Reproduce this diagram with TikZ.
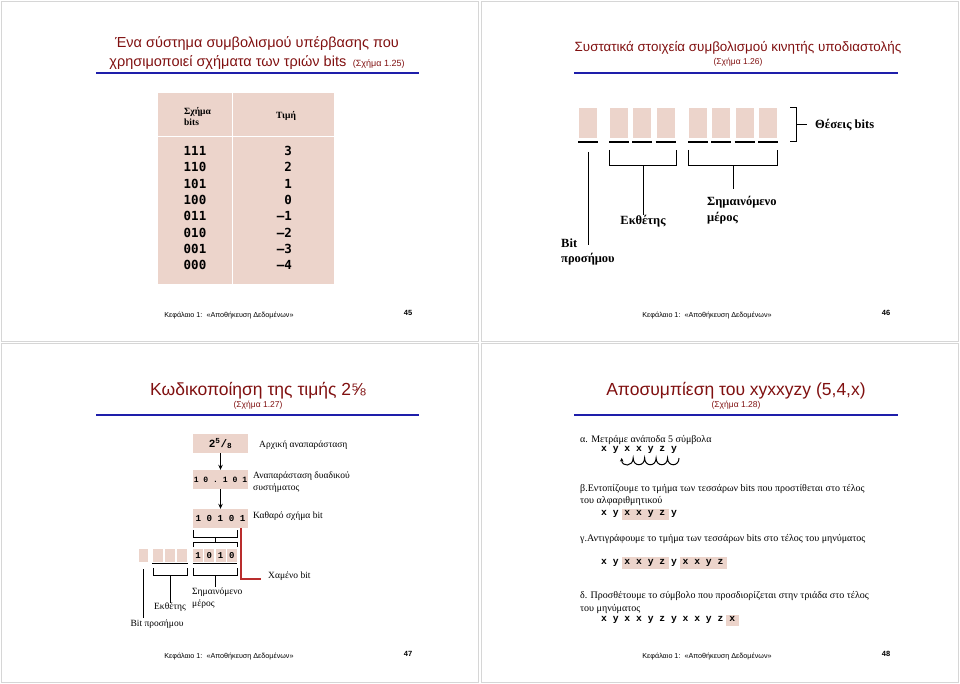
\documentclass[tikz,border=0pt]{standalone}
\usepackage{fontspec}
\setmainfont{Liberation Serif}
\setsansfont{Liberation Sans}
\setmonofont{Liberation Mono}
\newfontfamily\tablemono{DejaVu Sans Mono}
\usetikzlibrary{arrows.meta,positioning}

\definecolor{slidered}{RGB}{128,16,16}
\definecolor{ruleblue}{RGB}{30,30,170}
\definecolor{bitpink}{RGB}{236,212,203}
\definecolor{framegray}{RGB}{214,214,214}
\definecolor{lostred}{RGB}{185,45,45}

\newcommand{\fsz}[1]{\fontsize{#1}{1.25\dimexpr#1pt\relax}\selectfont}

\tikzset{
  slide/.style={draw=framegray, line width=1pt},
  toprule/.style={draw=ruleblue, line width=1.3pt},
  title/.style={font=\sffamily\fsz{14.5}, text=slidered, align=center, inner sep=0pt},
  figref/.style={font=\sffamily\fsz{8.5}, text=slidered, inner sep=0pt},
  footer/.style={font=\sffamily\fsz{7.2}, inner sep=0pt},
  pagenum/.style={font=\sffamily\bfseries\fsz{7.5}, inner sep=0pt},
  bitcell/.style={fill=bitpink, draw=none, inner sep=0pt},
  brk/.style={draw=black, line width=1pt},
  bitline/.style={draw=black, line width=1.5pt},
  bigtag/.style={font=\bfseries\fsz{12.5}, align=left, inner sep=0pt},
  tag/.style={font=\fsz{9.5}, align=left, inner sep=0pt},
  step text/.style={font=\fsz{10}, anchor=west, inner sep=0pt},
  symrow/.style={font=\ttfamily\bfseries\fsz{9.7}, anchor=west, inner sep=0pt},
  flow/.style={-{Stealth[length=5pt,width=4.5pt]}, line width=1pt}
}

\begin{document}
\begin{tikzpicture}[x=1pt, y=-1pt]
\useasboundingbox (0,0) rectangle (960,684);

% slide frames
\draw[slide] (1.5,1.5) rectangle (478,341);
\draw[slide] (481.5,1.5) rectangle (958.5,341);
\draw[slide] (1.5,343.5) rectangle (478,682.5);
\draw[slide] (481.5,343.5) rectangle (958.5,682.5);

% ---------- slide 45 ----------
\node[title] (title45) at (257,53) {Ένα σύστημα συμβολισμού υπέρβασης που\\χρησιμοποιεί σχήματα των τριών bits {\fsz{9}\ (Σχήμα 1.25)}};
\draw[toprule] (96,73) -- (419,73);

\fill[bitpink] (158,93) rectangle (334,284);
\draw[white, line width=1pt] (232,93) -- (232,284);
\draw[white, line width=1pt] (158,137) -- (334,137);
\node[font=\bfseries\fsz{9.5}, align=left, anchor=west, inner sep=0pt] (headpat) at (184,116.5) {Σχήμα\\bits};
\node[font=\bfseries\fsz{9.5}, inner sep=0pt] (headval) at (286,116) {Τιμή};
\foreach \pat/\val [count=\r] in {111/3,110/2,101/1,100/0,011/–1,010/–2,001/–3,000/–4} {
  \node[font=\tablemono\bfseries\fsz{12.5}, inner sep=0pt] (pat\r) at (195,{151+(\r-1)*16.33}) {\pat};
  \node[font=\tablemono\bfseries\fsz{12.5}, inner sep=0pt, anchor=east] (val\r) at (292,{151+(\r-1)*16.33}) {\val};
}

\node[footer] (foot45) at (229,316) {Κεφάλαιο 1:\ \ «Αποθήκευση Δεδομένων»};
\node[pagenum] (num45) at (408,313) {45};

% ---------- slide 46 ----------
\node[title, font=\sffamily\fsz{13.4}] (title46) at (738,48) {Συστατικά στοιχεία συμβολισμού κινητής υποδιαστολής};
\node[figref] (ref46) at (738,62) {(Σχήμα 1.26)};
\draw[toprule] (574,73) -- (898,73);

\foreach \x [count=\i] in {579,610,633.3,656.7,689,712.3,735.7,759} {
  \node[bitcell, minimum width=18pt, minimum height=30pt] (fb\i) at ({\x+9},123) {};
  \draw[bitline] ({\x-1},142) -- ({\x+19},142);
}
\draw[brk] (790,108) -- (796,108) -- (796,142) -- (790,142);
\node[bigtag, anchor=west] (places) at (815,125) {Θέσεις bits};
\draw[brk] (796,125) -- (places.west -| 807,125);

\node[bigtag, anchor=west] (signlbl) at (561,252) {Bit\\προσήμου};
\draw[brk] (588,152) -- (588,245);

\node[bigtag] (explbl) at (643,221) {Εκθέτης};
\draw[brk] (609,150) -- (609,166) -- (676,166) -- (676,150);
\draw[brk] (643,166) -- (explbl.north);

\node[bigtag, anchor=west] (mantlbl) at (707,210) {Σημαινόμενο\\μέρος};
\draw[brk] (688,150) -- (688,166) -- (777,166) -- (777,150);
\draw[brk] (733,166) -- (733,189);

\node[footer] (foot46) at (707,316) {Κεφάλαιο 1:\ \ «Αποθήκευση Δεδομένων»};
\node[pagenum] (num46) at (886,313) {46};

% ---------- slide 47 ----------
\node[title, font=\sffamily\fsz{17.5}] (title47) at (258,391) {Κωδικοποίηση της τιμής 2⅝};
\node[figref] (ref47) at (258,405) {(Σχήμα 1.27)};
\draw[toprule] (96,415) -- (419,415);

\node[bitcell, minimum width=55pt, minimum height=19pt, font=\ttfamily\bfseries\fsz{11}] (init) at (220.5,443.5) {2\textsuperscript{5}/\textsubscript{8}};
\node[bitcell, minimum width=55pt, minimum height=19pt, font=\ttfamily\bfseries\fsz{8.1}] (bin) at (220.5,479.5) {1 0 . 1 0 1};
\node[bitcell, minimum width=55pt, minimum height=19pt, font=\ttfamily\bfseries\fsz{9.2}] (pure) at (220.5,518.5) {1 0 1 0 1};
\draw[flow] (init) -- (bin);
\draw[flow] (bin) -- (pure);

\node[tag, anchor=west] (initlbl) at (259,445) {Αρχική αναπαράσταση};
\node[tag, anchor=west] (binlbl) at (253,482) {Αναπαράσταση δυαδικού\\συστήματος};
\node[tag, anchor=west] (purelbl) at (253,516) {Καθαρό σχήμα bit};

% picking the four bits
\draw[brk] (193,530) -- (193,537) -- (237,537) -- (237,530);
\draw[brk] (215,537) -- (215,542);
\draw[brk] (193,547) -- (193,542) -- (237,542) -- (237,547);

\node[bitcell, minimum width=9pt, minimum height=13pt] (sb) at (143.5,555.5) {};
\foreach \x [count=\i] in {153,165,177} {
  \node[bitcell, minimum width=10pt, minimum height=13pt] (eb\i) at ({\x+5},555.5) {};
  \draw[line width=1.2pt] ({\x-1},563.5) -- ({\x+11},563.5);
}
\foreach \x/\b [count=\i] in {193/1,204.25/0,215.5/1,226.75/0} {
  \node[bitcell, minimum width=10pt, minimum height=13pt, font=\ttfamily\bfseries\fsz{9}] (mb\i) at ({\x+5},555.5) {\b};
  \draw[line width=1.2pt] ({\x-0.5},563.5) -- ({\x+10.5},563.5);
}

\node[tag, anchor=north] (explbl47) at (170,603) {Εκθέτης};
\draw[brk] (153,568) -- (153,575) -- (187,575) -- (187,568);
\draw[brk] (170,575) -- (explbl47.north);

\node[tag, anchor=north west] (mantlbl47) at (192,588) {Σημαινόμενο\\μέρος};
\draw[brk] (193,568) -- (193,575) -- (237,575) -- (237,568);
\draw[brk] (215,575) -- (215,587);

\node[tag, anchor=north] (signlbl47) at (157,620) {Bit προσήμου};
\draw[brk] (143,569) -- (143,618);

\node[tag, anchor=west] (lostlbl) at (268,576) {Χαμένο bit};
\draw[lostred, line width=1.3pt] (241,528) -- (241,579) -- (261,579);

\node[footer] (foot47) at (229,657) {Κεφάλαιο 1:\ \ «Αποθήκευση Δεδομένων»};
\node[pagenum] (num47) at (408,654) {47};

% ---------- slide 48 ----------
\node[title, font=\sffamily\fsz{17.5}] (title48) at (736,391) {Αποσυμπίεση του xyxxyzy (5,4,x)};
\node[figref] (ref48) at (736,405) {(Σχήμα 1.28)};
\draw[toprule] (574,415) -- (898,415);

\node[step text] (stepa) at (580,440) {α. Μετράμε ανάποδα 5 σύμβολα};
\node[symrow] (rowa) at (601,450) {x y x x y z y};
\draw[line width=1pt, -{Stealth[length=3.5pt,width=3.5pt]}] (679,458)
  \foreach \i in {1,...,5} { .. controls ({679-(\i-1)*11.46},467) and ({679-\i*11.46},467) .. ({679-\i*11.46},458) };

\node[step text, align=left] (stepb) at (580,495) {β.Εντοπίζουμε το τμήμα των τεσσάρων bits που προστίθεται στο τέλος\\του αλφαριθμητικού};
\fill[bitpink] (622,509) rectangle (669,520);
\node[symrow] (rowb) at (601,514) {x y x x y z y};

\node[step text] (stepc) at (580,539) {γ.Αντιγράφουμε το τμήμα των τεσσάρων bits στο τέλος του μηνύματος};
\fill[bitpink] (622,557) rectangle (669,569);
\fill[bitpink] (680,557) rectangle (727,569);
\node[symrow] (rowc) at (601,563) {x y x x y z y x x y z};

\node[step text, align=left] (stepd) at (580,602.5) {δ. Προσθέτουμε το σύμβολο που προσδιορίζεται στην τριάδα στο τέλος\\του μηνύματος};
\fill[bitpink] (726,614.5) rectangle (739,625.5);
\node[symrow] (rowd) at (601,620) {x y x x y z y x x y z x};

\node[footer] (foot48) at (707,657) {Κεφάλαιο 1:\ \ «Αποθήκευση Δεδομένων»};
\node[pagenum] (num48) at (886,654) {48};
\end{tikzpicture}
\end{document}
